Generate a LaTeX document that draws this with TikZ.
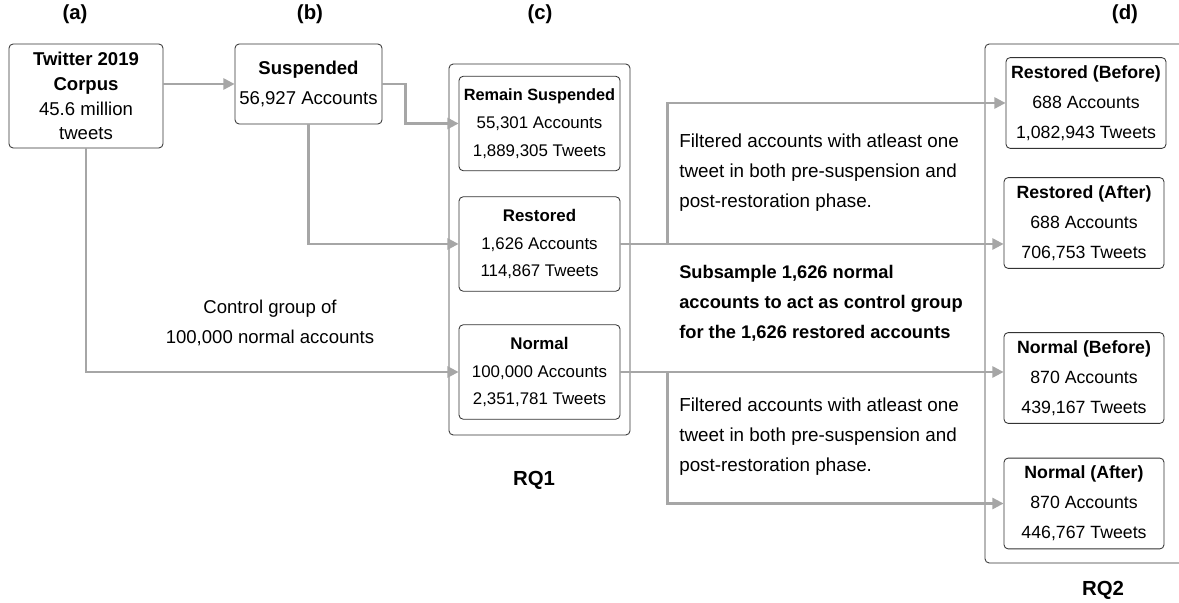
\documentclass[tikz,border=0pt]{standalone}
\usepackage{fontspec}
\setmainfont{Liberation Sans}
\usetikzlibrary{arrows.meta}
\begin{document}
\begin{tikzpicture}[x=0.025cm,y=-0.025cm,>={Triangle[length=8pt,width=8pt]},
  box/.style={draw=black!80,line width=0.6pt,rounded corners=3pt,align=center,inner sep=0pt},
  cbox/.style={box,minimum width=4.025cm,minimum height=2.36cm,font=\fontsize{12}{19.8}\selectfont},
  dbox/.style={box,minimum width=4cm,minimum height=2.27cm,font=\fontsize{12.6}{21.3}\selectfont},
  frame/.style={draw=black!80,line width=0.6pt,rounded corners=3pt},
  flow/.style={->,black!35,line width=1.6pt},
  hd/.style={font=\fontsize{14.5}{16}\selectfont\bfseries},
  note/.style={anchor=west,align=left,inner sep=0pt,font=\fontsize{13.4}{21.3}\selectfont}]
  \useasboundingbox (0,0) rectangle (1179,603);
  \node[hd] (la) at (75,14) {(a)};
  \node[hd] (lb) at (310,14) {(b)};
  \node[hd] (lc) at (540,14) {(c)};
  \node[hd] (ld) at (1125,14) {(d)};
  \node[box,minimum width=3.85cm,minimum height=2.6cm,font=\fontsize{13.2}{17.7}\selectfont] (corpus) at (86,96)
    {\textbf{Twitter 2019}\\\textbf{Corpus}\\45.6 million\\tweets};
  \node[box,minimum width=3.675cm,minimum height=2cm,font=\fontsize{13.2}{21.3}\selectfont] (susp) at (308.5,84)
    {\textbf{Suspended}\\56,927 Accounts};
  \draw[frame] (449,64) rectangle (630,435);
  \node[cbox] (remain) at (539.5,123.5) {{\fontsize{11.6}{19.8}\selectfont\textbf{Remain Suspended}}\\55,301 Accounts\\1,889,305 Tweets};
  \node[cbox] (restored) at (539.5,244) {\textbf{Restored}\\1,626 Accounts\\114,867 Tweets};
  \node[cbox] (normal) at (539.5,372) {\textbf{Normal}\\100,000 Accounts\\2,351,781 Tweets};
  \node[hd] (rq1) at (534,480) {RQ1};
  \draw[frame] (1179,44) -- (985,44) -- (985,563) -- (1179,563);
  \node[dbox] (rb) at (1086,103) {\textbf{Restored (Before)}\\688 Accounts\\1,082,943 Tweets};
  \node[dbox] (ra) at (1084,223) {\textbf{Restored (After)}\\688 Accounts\\706,753 Tweets};
  \node[dbox] (nb) at (1084,378) {\textbf{Normal (Before)}\\870 Accounts\\439,167 Tweets};
  \node[dbox] (na) at (1084,503.5) {\textbf{Normal (After)}\\870 Accounts\\446,767 Tweets};
  \node[hd] (rq2) at (1103,590) {RQ2};
  \node[align=center,inner sep=0pt,font=\fontsize{13.2}{21.3}\selectfont] (ctl) at (270,323)
    {Control group of\\100,000 normal accounts};
  \node[note] (f1) at (679,173) {Filtered accounts with atleast one\\tweet in both pre-suspension and\\post-restoration phase.};
  \node[note,font=\fontsize{13}{21.3}\selectfont\bfseries] (sub) at (679,303)
    {Subsample 1,626 normal\\accounts to act as control group\\for the 1,626 restored accounts};
  \node[note] (f2) at (679,437) {Filtered accounts with atleast one\\tweet in both pre-suspension and\\post-restoration phase.};
  \draw[flow] (corpus.east |- susp.west) -- (susp.west);
  \draw[flow] (susp.east) -- ++(23,0) |- (remain.west);
  \draw[flow] (susp.south) |- (restored.west);
  \draw[flow] (corpus.south) |- (normal.west);
  \draw[flow] (restored.east) -- (restored.east -| ra.west);
  \draw[flow] (restored.east) -- ++(47,0) |- (rb.west);
  \draw[flow] (normal.east) -- (normal.east -| nb.west);
  \draw[flow] (normal.east) -- ++(47,0) |- (na.west);
\end{tikzpicture}
\end{document}
